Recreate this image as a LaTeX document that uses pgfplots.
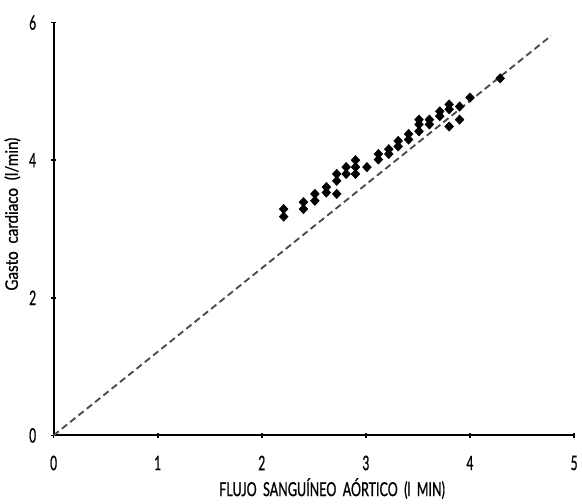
\documentclass[border=0pt]{standalone}
\usepackage{fontspec}
\setmainfont{Lato}[FakeStretch=0.6, FakeBold=0.8]
\newfontfamily\xlabfont{Lato}[FakeStretch=0.65, WordSpace=2, FakeBold=0.8]
\newfontfamily\ylabfont{Lato}[FakeStretch=0.88, WordSpace=2, FakeBold=0.8]
\usepackage{pgfplots}
\pgfplotsset{compat=1.18}
\definecolor{refline}{HTML}{4A4A4A}

\begin{document}
\begin{tikzpicture}
  \begin{axis}[scale only axis, width=391.5pt, height=310.5pt,
      axis lines*=left, axis line style={line width=1.5pt},
      xmin=0, xmax=5, ymin=0, ymax=6,
      xtick={0,...,5}, ytick={0,2,4,6},
      tick style={black, line width=1.3pt}, major tick length=3.5pt, tick align=center,
      tick label style={font=\fontsize{15}{17}\selectfont},
      xticklabel style={anchor=center, yshift=-19pt},
      yticklabel style={anchor=center, xshift=-14pt},
      /pgf/number format/assume math mode=true,
      xlabel={FLUJO SANGUÍNEO AÓRTICO (l MIN)},
      ylabel={Gasto cardiaco (l/min)},
      every axis x label/.style={at={(axis description cs:0.535,0)}, yshift=-40pt, anchor=center,
        font=\xlabfont\fontsize{14.5}{16}\selectfont},
      every axis y label/.style={at={(axis description cs:0,0.536)}, xshift=-31pt, anchor=center,
        rotate=90, font=\ylabfont\fontsize{13}{15}\selectfont},
      clip=false]
    \addplot[refline, line width=1.4pt, dash pattern=on 5pt off 3pt] coordinates {(0,0) (4.78,5.81)};
    \addplot[only marks, mark=diamond*, mark size=3.5pt, mark options={xscale=1.25}, black] coordinates {
      (2.21,3.29) (2.21,3.18)
      (2.40,3.39) (2.40,3.29)
      (2.51,3.51) (2.51,3.41)
      (2.62,3.61) (2.62,3.53)
      (2.72,3.51) (2.72,3.80) (2.72,3.70)
      (2.81,3.90) (2.81,3.80)
      (2.90,4.00) (2.90,3.90) (2.90,3.80)
      (3.01,3.90)
      (3.12,4.09) (3.12,4.01)
      (3.22,4.16) (3.22,4.09)
      (3.31,4.28) (3.31,4.20)
      (3.41,4.38) (3.41,4.30)
      (3.51,4.59) (3.51,4.52) (3.51,4.42)
      (3.61,4.59) (3.61,4.52)
      (3.71,4.71) (3.71,4.64)
      (3.80,4.81) (3.80,4.74) (3.80,4.49)
      (3.90,4.78) (3.90,4.59)
      (4.00,4.91)
      (4.29,5.19)
    };
  \end{axis}
  \path (current axis.north west) ++(0,17pt);
\end{tikzpicture}
\end{document}
